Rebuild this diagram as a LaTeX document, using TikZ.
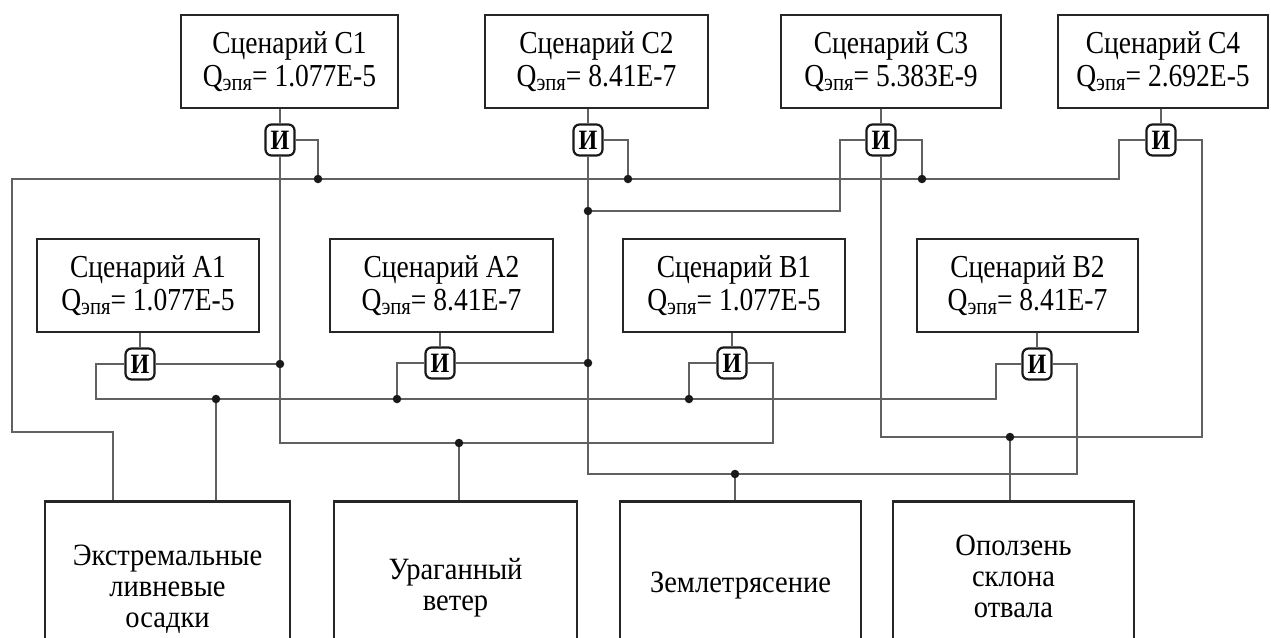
\documentclass[tikz,border=0pt]{standalone}
\usepackage{fontspec}
\setmainfont{Liberation Serif}[FakeStretch=0.86]
\newfontfamily\lowfont{Liberation Serif}[FakeStretch=0.92]
\newcommand{\qepa}{Q\raisebox{-4.5pt}{\fontsize{24}{24}\selectfont эпя}}
\begin{document}
\begin{tikzpicture}[x=1pt,y=-1pt,
  box/.style={draw=black!85,line width=2.6pt,fill=white,inner sep=0pt,align=center,font=\fontsize{32}{33}\selectfont},
  lowbox/.style={box,font=\lowfont\fontsize{31}{31}\selectfont},
  gate/.style={draw=black!90,line width=2.2pt,rounded corners=6pt,fill=white,minimum width=29pt,minimum height=31pt,inner sep=0pt,font=\bfseries\fontsize{28}{28}\selectfont},
  wire/.style={draw=black!62,line width=1.4pt},
  dot/.style={circle,fill=black!90,inner sep=0pt,minimum size=8.5pt}
]
\fill[white] (0,0) rectangle (1271,637);
\useasboundingbox (0,0) rectangle (1271,637);
\clip (0,0) rectangle (1271,637);

% top scenario boxes
\node[box,minimum width=217pt,minimum height=93pt] (c1) at (289.5,61.5) {Сценарий C1\\\qepa= 1.077E-5};
\node[box,minimum width=223pt,minimum height=93pt] (c2) at (596.5,61.5) {Сценарий C2\\\qepa= 8.41E-7};
\node[box,minimum width=220pt,minimum height=93pt] (c3) at (891,61.5) {Сценарий C3\\\qepa= 5.383E-9};
\node[box,minimum width=210pt,minimum height=93pt] (c4) at (1163,61.5) {Сценарий C4\\\qepa= 2.692E-5};

% middle scenario boxes
\node[box,minimum width=222pt,minimum height=93pt] (a1) at (148,285.5) {Сценарий A1\\\qepa= 1.077E-5};
\node[box,minimum width=223pt,minimum height=93pt] (a2) at (441.5,285.5) {Сценарий A2\\\qepa= 8.41E-7};
\node[box,minimum width=222pt,minimum height=93pt] (b1) at (734,285.5) {Сценарий B1\\\qepa= 1.077E-5};
\node[box,minimum width=221pt,minimum height=93pt] (b2) at (1027.5,285.5) {Сценарий B2\\\qepa= 8.41E-7};

% bottom event boxes (cut by the lower edge)
\node[lowbox,minimum width=245pt,minimum height=176pt,anchor=north] (ex) at (167.5,500) {Экстремальные\\ливневые\\осадки};
\node[lowbox,minimum width=243pt,minimum height=172pt,anchor=north] (ur) at (455.5,500) {Ураганный\\ветер};
\node[lowbox,minimum width=241pt,minimum height=168pt,anchor=north] (ze) at (740.5,500) {Землетрясение};
\node[lowbox,minimum width=241pt,minimum height=150pt,anchor=north] (op) at (1013.5,500) {Оползень\\склона\\отвала};

% AND gates
\node[gate] (gc1) at (280,140) {И};
\node[gate] (gc2) at (588,140) {И};
\node[gate] (gc3) at (881,140) {И};
\node[gate] (gc4) at (1161,140) {И};
\node[gate] (ga1) at (140,364) {И};
\node[gate] (ga2) at (440,363) {И};
\node[gate] (gb1) at (732,363) {И};
\node[gate] (gb2) at (1037,364) {И};

% junctions and bends
\coordinate (d1) at (318,179);
\coordinate (d2) at (628,179);
\coordinate (d3) at (922,179);
\coordinate (d4) at (588,211);
\coordinate (d5) at (280,364);
\coordinate (d6) at (588,363);
\coordinate (d7) at (216,399);
\coordinate (d8) at (397,399);
\coordinate (d9) at (689,399);
\coordinate (d10) at (459,443);
\coordinate (d11) at (735,474);
\coordinate (d12) at (1010,437);
\coordinate (t0) at (12,179);
\coordinate (t1) at (12,432);
\coordinate (t2) at (113,432);
\coordinate (t3) at (1119,179);
\coordinate (w1) at (280,443);
\coordinate (w2) at (773,443);
\coordinate (z1) at (588,474);
\coordinate (z2) at (1077,474);
\coordinate (o1) at (881,437);
\coordinate (o2) at (1202,437);
\coordinate (p1) at (840,211);
\coordinate (m0) at (96,399);
\coordinate (m1) at (996,399);

% box to gate
\foreach \b/\g in {c1/gc1,c2/gc2,c3/gc3,c4/gc4,a1/ga1,a2/ga2,b1/gb1,b2/gb2}
  \draw[wire] (\g.north) -- (\g.north |- \b.south);

% heavy rainfall bus (top)
\draw[wire] (gc4.west) -| (t3) -- (t0) -- (t1) -- (t2) -- (t2 |- ex.north);
\draw[wire] (gc1.east) -| (d1);
\draw[wire] (gc2.east) -| (d2);
\draw[wire] (gc3.east) -| (d3);
% heavy rainfall bus (middle)
\draw[wire] (ga1.west) -| (m0) -- (m1) |- (gb2.west);
\draw[wire] (ga2.west) -| (d8);
\draw[wire] (gb1.west) -| (d9);
\draw[wire] (d7) -- (d7 |- ex.north);
% hurricane wind
\draw[wire] (gc1.south) -- (w1) -- (w2) |- (gb1.east);
\draw[wire] (ga1.east) -- (d5);
\draw[wire] (d10) -- (d10 |- ur.north);
% earthquake
\draw[wire] (gc2.south) -- (z1) -- (z2) |- (gb2.east);
\draw[wire] (ga2.east) -- (d6);
\draw[wire] (gc3.west) -| (p1) -- (d4);
\draw[wire] (d11) -- (d11 |- ze.north);
% landslide
\draw[wire] (gc3.south) -- (o1) -- (o2) |- (gc4.east);
\draw[wire] (d12) -- (d12 |- op.north);

% junction dots
\foreach \p in {d1,d2,d3,d4,d5,d6,d7,d8,d9,d10,d11,d12}
  \node[dot] (\p-dot) at (\p) {};
\end{tikzpicture}
\end{document}
